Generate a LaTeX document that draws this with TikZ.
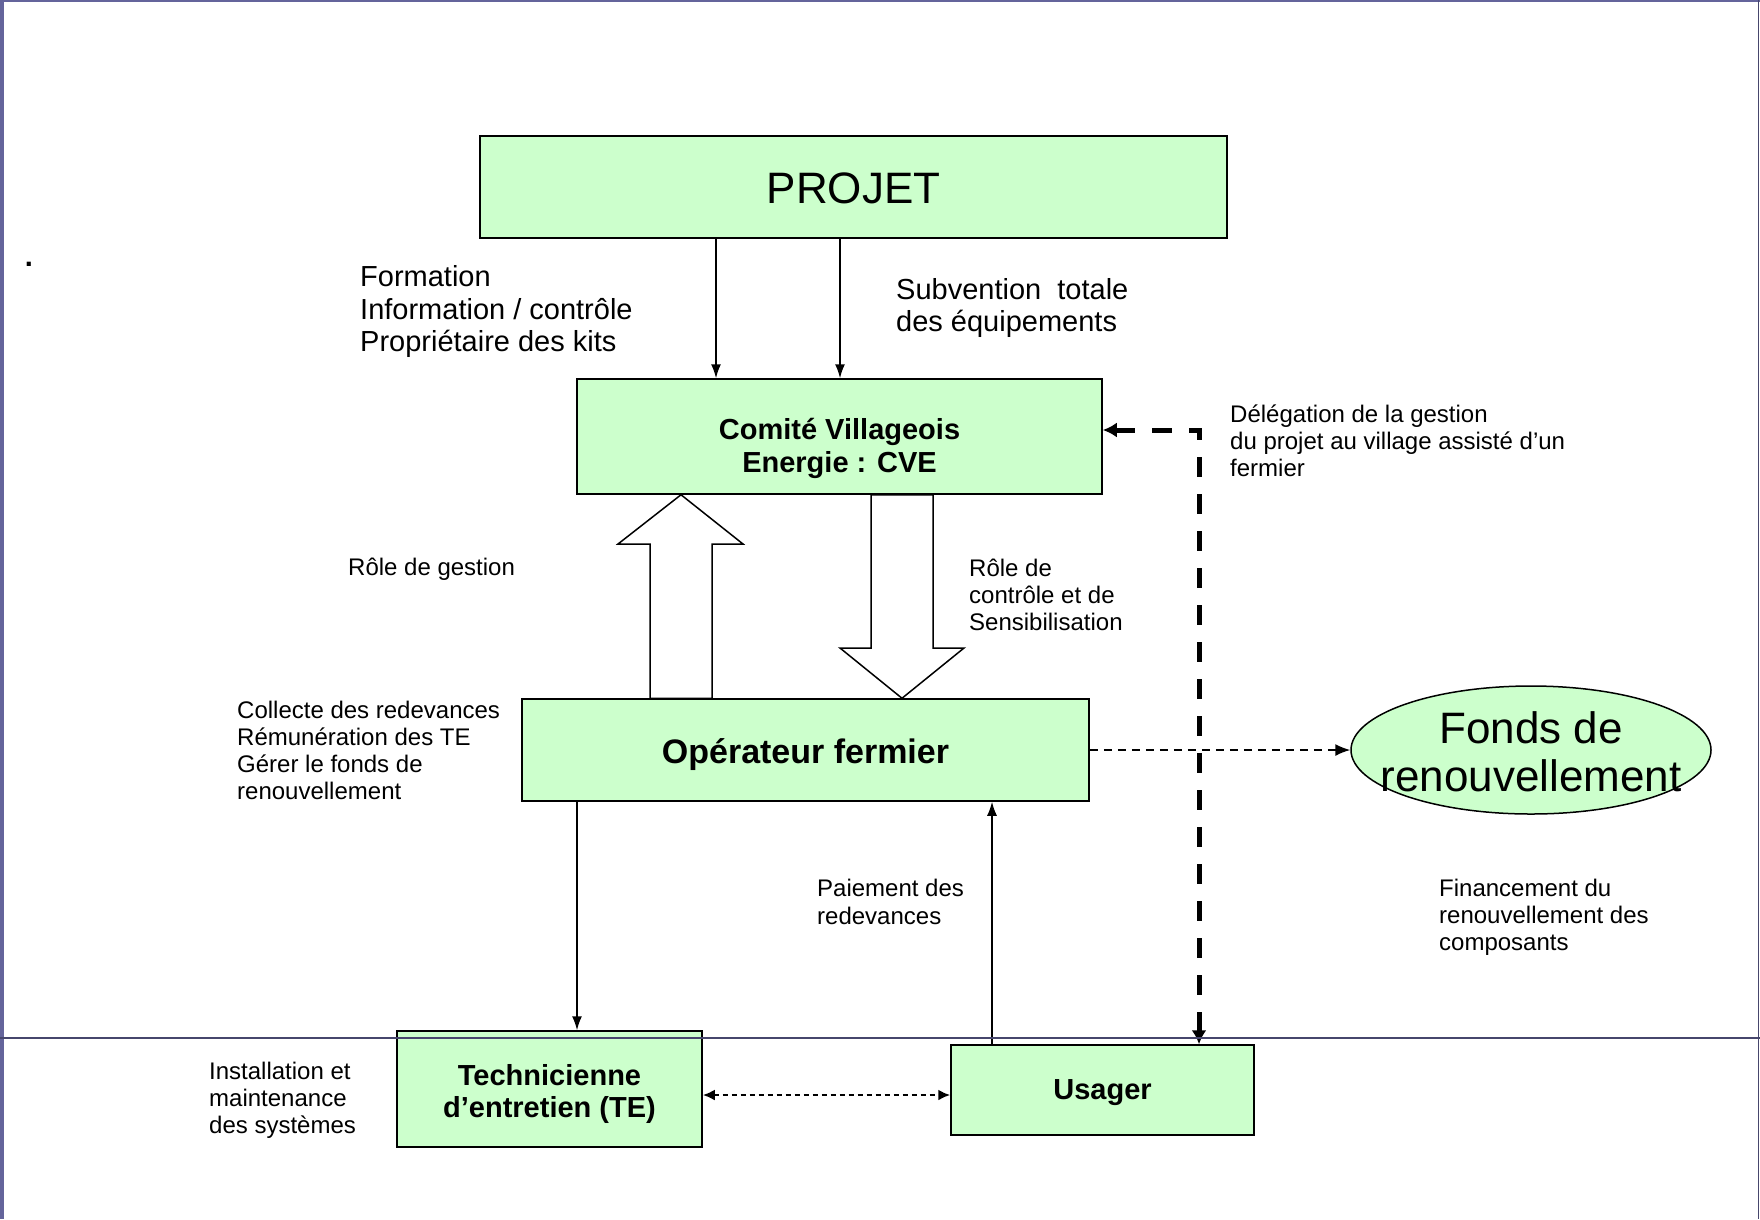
\documentclass[tikz,border=0pt]{standalone}
\usepackage{fontspec}
\setmainfont{Liberation Sans}
\usepackage{xcolor}
\usepackage{tikz}
\usetikzlibrary{arrows.meta,shapes.geometric}
\definecolor{boxgreen}{RGB}{204,255,204}
\definecolor{framecol}{RGB}{100,100,155}

\begin{document}
\begin{tikzpicture}[x=1pt,y=-1pt,
    box/.style={draw,line width=1.5pt,fill=boxgreen,inner sep=0pt},
    boxlbl/.style={inner sep=0pt,align=center},
    lbl/.style={anchor=west,inner sep=0pt,align=left},
    big/.style={font=\fontsize{44}{48}\selectfont},
    mid/.style={font=\fontsize{29}{32.5}\selectfont},
    small/.style={font=\fontsize{24}{27}\selectfont},
    boxtxt/.style={font=\bfseries\fontsize{29}{32.5}\selectfont},
    flow/.style={line width=1.5pt,-{Latex[length=14pt,width=10pt]}},
    fundflow/.style={line width=1.5pt,dash pattern=on 8pt off 6pt,-{Latex[length=15pt,width=12pt]}},
    dotflow/.style={line width=2.5pt,dash pattern=on 5pt off 4pt,{Latex[length=12pt,width=11pt]}-{Latex[length=12pt,width=11pt]}},
    deleg/.style={line width=5pt,dash pattern=on 20pt off 17pt,{Latex[length=14pt,width=15pt]}-{Latex[length=14pt,width=15pt]}},
    hollow/.style={line width=1.5pt,fill=white,line join=miter}]
    % page frame
    \useasboundingbox (0,0) rectangle (1760,1219);
    \fill[framecol] (0,0) rectangle (4,1219);
    \draw[framecol,line width=1.5pt] (0,1) -- (1760,1);
    \draw[framecol!70!black,line width=1.5pt] (1758.5,0) -- (1758.5,1219);
    \node[font=\bfseries\fontsize{29}{32}\selectfont,inner sep=0pt] (point) at (29,264) {.};

    % boxes
    \node[box,minimum width=747pt,minimum height=102pt] (projet) at (853.5,187) {};
    \node[boxlbl,big] (projettxt) at ([yshift=-1pt]projet.center) {PROJET};
    \node[box,minimum width=525pt,minimum height=115pt] (cve) at (839.5,436.5) {};
    \node[boxlbl,boxtxt] (cvetxt) at ([yshift=-12pt]cve.center) {Comité Villageois\\Energie : CVE};
    \node[box,minimum width=567pt,minimum height=102pt] (oper) at (805.5,750) {};
    \node[boxlbl,font=\bfseries\fontsize{34}{38}\selectfont] (opertxt) at ([yshift=-5pt]oper.center) {Opérateur fermier};
    \node[box,minimum width=305pt,minimum height=116pt] (te) at (549.5,1089) {};
    \node[boxlbl,boxtxt] (tetxt) at ([yshift=-5pt]te.center) {Technicienne\\d’entretien (TE)};
    \node[box,minimum width=303pt,minimum height=90pt] (usager) at (1102.5,1090) {};
    \node[boxlbl,boxtxt] (usagertxt) at ([yshift=-3pt]usager.center) {Usager};
    \node[ellipse,draw,line width=1.5pt,fill=boxgreen,minimum width=360pt,minimum height=128pt] (fonds) at (1531,750) {};
    \node[boxlbl,big] (fondstxt) at (1531,752) {Fonds de\\renouvellement};

    % labels
    \node[lbl,mid] (formation) at (360,311.5) {Formation\\Information / contrôle\\Propriétaire des kits};
    \node[lbl,font=\fontsize{29}{31.4}\selectfont] (subvention) at (896,308) {Subvention\ \ totale\\des équipements};
    \node[lbl,small] (delegtxt) at (1230,441) {Délégation de la gestion\\du projet au village assisté d’un\\fermier};
    \node[lbl,small] (gestion) at (348,569) {Rôle de gestion};
    \node[lbl,small] (controle) at (969,595) {Rôle de\\contrôle et de\\Sensibilisation};
    \node[lbl,small] (collecte) at (237,750) {Collecte des redevances\\Rémunération des TE\\Gérer le fonds de\\renouvellement};
    \node[lbl,font=\fontsize{24}{28}\selectfont] (paiement) at (817,902) {Paiement des\\redevances};
    \node[lbl,small] (financement) at (1439,917) {Financement du\\renouvellement des\\composants};
    \node[lbl,small] (installation) at (209,1100) {Installation et\\maintenance\\des systèmes};

    % connectors
    \draw[flow] (716,0 |- projet.south) -- (716,0 |- cve.north);
    \draw[flow] (840,0 |- projet.south) -- (840,0 |- cve.north);
    \draw[hollow] (650,0 |- oper.north) -- (650,544) -- (618,544) -- (681,0 |- cve.south)
        -- (743,544) -- (712,544) -- (712,0 |- oper.north) -- cycle;
    \draw[hollow] (871,0 |- cve.south) -- (871,648) -- (840,648) -- (902,0 |- oper.north)
        -- (964,648) -- (933,648) -- (933,0 |- cve.south) -- cycle;
    \draw[fundflow] (oper.east) -- (fonds.west);
    \draw[flow] (577,0 |- oper.south) -- (577,0 |- te.north);
    \draw[flow] (992,0 |- usager.north) -- (992,0 |- oper.south);
    \draw[dotflow] (te.east |- 0,1095) -- (usager.west |- 0,1095);
    \coordinate (dcorner) at (1199,430);
    \draw[deleg] (cve.east |- dcorner) -- (dcorner) -- (dcorner |- usager.north);

    % separator line
    \draw[framecol!70!black,line width=1.2pt] (0,1038) -- (1760,1038);
\end{tikzpicture}
\end{document}
